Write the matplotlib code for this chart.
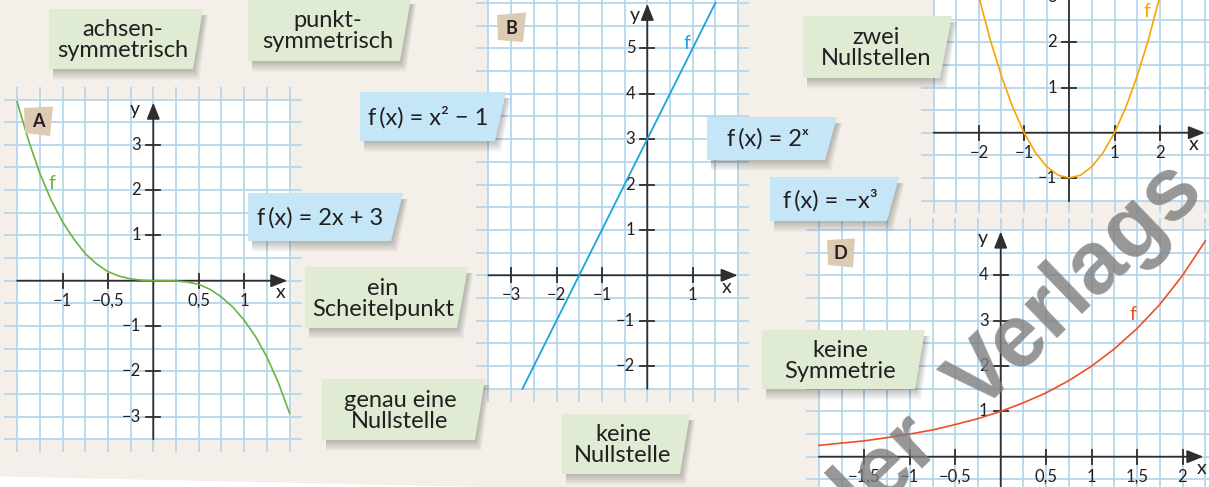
import numpy as np
import matplotlib.pyplot as plt
from matplotlib.patches import Polygon, Rectangle

plt.rcParams['font.family'] = ['Lato', 'DejaVu Sans']

W, H = 1209, 487

# ---- curves, values ----
# A  (f(x) = -x^3, as drawn)
a_x = [-1.5, -1.375, -1.25, -1.125, -1.0, -0.875, -0.75, -0.625, -0.5, -0.375, -0.25, -0.125,
       0.0, 0.125, 0.25, 0.375, 0.5, 0.625, 0.75, 0.875, 1.0, 1.125, 1.25, 1.375, 1.5]
a_y = [3.95, 3.10, 2.37, 1.78, 1.30, 0.92, 0.60, 0.37, 0.20, 0.10, 0.04, 0.01,
       0.0, 0.0, -0.005, -0.03, -0.08, -0.19, -0.36, -0.58, -0.87, -1.23, -1.68, -2.24, -2.92]
# B  (f(x) = 2x + 3)
b_x = [-2.75, 1.5]
b_y = [-2.5, 6.0]
# C  (f(x) = x^2 - 1)
c_x = [-2.0, -1.75, -1.5, -1.25, -1.0, -0.75, -0.5, -0.25, 0.0, 0.25, 0.5, 0.75, 1.0, 1.25, 1.5, 1.75, 2.0]
c_y = [3.0, 2.06, 1.25, 0.56, 0.0, -0.44, -0.75, -0.94, -1.0, -0.94, -0.75, -0.44, 0.0, 0.56, 1.25, 2.06, 3.0]
# D  (f(x) = 2^x)
d_x = [-2.0, -1.75, -1.5, -1.25, -1.0, -0.75, -0.5, -0.25, 0.0, 0.25, 0.5, 0.75, 1.0, 1.25, 1.5, 1.75, 2.0, 2.25]
d_y = [0.25, 0.30, 0.35, 0.42, 0.50, 0.59, 0.71, 0.84, 1.0, 1.19, 1.41, 1.68, 2.0, 2.38, 2.83, 3.36, 4.0, 4.76]

# ---- tick values / labels ----
a_xt = [-1, -0.5, 0.5, 1]
a_xl = ['−1', '−0,5', '0,5', '1']
a_yt = [-3, -2, -1, 1, 2, 3]
a_yl = ['−3', '−2', '−1', '1', '2', '3']
b_xt = [-3, -2, -1, 1]
b_xl = ['−3', '−2', '−1', '1']
b_yt = [-2, -1, 1, 2, 3, 4, 5]
b_yl = ['−2', '−1', '1', '2', '3', '4', '5']
c_xt = [-2, -1, 1, 2]
c_xl = ['−2', '−1', '1', '2']
c_yt = [-1, 1, 2, 3]
c_yl = ['−1', '1', '2', '3']
d_xt = [-1.5, -1, -0.5, 0.5, 1, 1.5, 2]
d_xl = ['−1,5', '−1', '−0,5', '0,5', '1', '1,5', '2']
d_yt = [1, 2, 3, 4]
d_yl = ['1', '2', '3', '4']

# ---- card texts ----
green_texts = ['achsen-\nsymmetrisch', 'punkt-\nsymmetrisch', 'zwei\nNullstellen', 'ein\nScheitelpunkt',
               'genau eine\nNullstelle', 'keine\nNullstelle', 'keine\nSymmetrie']
blue_texts = ['f\u2009(x) = x² − 1', 'f\u2009(x) = 2x + 3', 'f\u2009(x) = 2ˣ', 'f\u2009(x) = −x³']

CREAM = '#f4f0e9'
GRID = '#b6d6ea'
AXC = '#2e2e2e'
TXT = '#231f20'
GREEN_BOX = '#dfecd3'
BLUE_BOX = '#c4e6f7'
BADGE = '#dccab3'

fig = plt.figure(figsize=(W / 100, H / 100), dpi=100)
fig.patch.set_facecolor(CREAM)
bg = fig.add_axes([0, 0, 1, 1])
bg.set_xlim(0, W); bg.set_ylim(H, 0); bg.axis('off')
bg.add_patch(Polygon([(0, 476.5), (530, 488), (0, 488)], fc='white', ec='none'))


def graph(ox, oy, ux, uy, xlim, ylim):
    x0, x1 = xlim
    y0, y1 = ylim
    ax = fig.add_axes([(ox + x0 * ux) / W, 1 - (oy - y0 * uy) / H,
                       (x1 - x0) * ux / W, (y1 - y0) * uy / H])
    ax.set_xlim(x0, x1); ax.set_ylim(y0, y1)
    ax.axis('off')
    return ax


def paper(ax, gx, gy, wx, wy, ex, ey):
    ax.add_patch(Rectangle((wx[0], wy[0]), wx[1] - wx[0], wy[1] - wy[0], fc='white', ec='none', zorder=0))
    for v in gx:
        ax.plot([v, v], [gy[0] - ey[0], gy[-1] + ey[1]], color=GRID, lw=1.3, zorder=1)
    for h in gy:
        ax.plot([gx[0] - ex[0], gx[-1] + ex[1]], [h, h], color=GRID, lw=1.3, zorder=1)


def cross(ax, ux, uy, xr, yr, xt, xl, yt, yl, yarrow=True):
    st = '-|>,head_length=0.55,head_width=0.22'
    ax.annotate('', xy=(xr[1], 0), xytext=(xr[0], 0),
                arrowprops=dict(arrowstyle=st, color=AXC, lw=1.3, mutation_scale=18, shrinkA=0, shrinkB=0), zorder=3)
    if yarrow:
        ax.annotate('', xy=(0, yr[1]), xytext=(0, yr[0]),
                    arrowprops=dict(arrowstyle=st, color=AXC, lw=1.3, mutation_scale=18, shrinkA=0, shrinkB=0), zorder=3)
    else:
        ax.plot([0, 0], yr, color=AXC, lw=1.3, zorder=3)
    tx, ty = 7 / ux, 7 / uy
    for t, s in zip(xt, xl):
        ax.plot([t, t], [-ty, ty], color=AXC, lw=1.3, zorder=3)
        ax.text(t, -20 / uy, s, ha='center', va='center', fontsize=12, color=TXT, zorder=4)
    for t, s in zip(yt, yl):
        ax.plot([-tx, tx], [t, t], color=AXC, lw=1.3, zorder=3)
        ax.text(-12 / ux, t, s, ha='right', va='center', fontsize=12, color=TXT, zorder=4)


# ---- A ----
ux, uy = 90.8, 45.3
axA = graph(153.3, 280.7, ux, uy, (-1.75, 1.75), (-3.85, 4.35))
paper(axA, np.arange(-1.5, 1.51, 0.25), np.arange(-3.5, 4.01, 0.5), (-1.5, 1.5), (-3.5, 4.0),
      (12 / ux, 12 / ux), (12 / uy, 12 / uy))
cross(axA, ux, uy, (-1.5, 1.476), (-3.5, 3.93), a_xt, a_xl, a_yt, a_yl)
axA.plot(a_x, a_y, color='#6cb33f', lw=1.2, zorder=5)
axA.text(-1.12, 2.15, 'f', color='#6cb33f', fontsize=14, ha='center', va='center')
axA.text(1.4, -0.25, 'x', color=TXT, fontsize=14, ha='center', va='center')
axA.text(-0.2, 3.78, 'y', color=TXT, fontsize=14, ha='center', va='center')

# ---- B ----
ux = uy = 45.4
axB = graph(647.3, 275.3, ux, uy, (-3.9, 2.3), (-2.9, 6.2))
paper(axB, np.arange(-3.5, 2.01, 0.5), np.arange(-2.5, 6.01, 0.5), (-3.5, 2.0), (-2.5, 6.2),
      (11 / ux, 10 / ux), (12 / uy, 0.5))
cross(axB, ux, uy, (-3.5, 1.99), (-2.5, 5.98), b_xt, b_xl, b_yt, b_yl)
axB.plot(b_x, b_y, color='#1aa3e0', lw=1.3, zorder=5)
axB.text(0.87, 5.1, 'f', color='#1aa3e0', fontsize=14, ha='center', va='center')
axB.text(1.75, -0.27, 'x', color=TXT, fontsize=14, ha='center', va='center')
axB.text(-0.27, 5.73, 'y', color=TXT, fontsize=14, ha='center', va='center')

# ---- C ----
ux = uy = 45.2
axC = graph(1069.3, 132.7, ux, uy, (-3.4, 3.1), (-1.9, 3.0))
paper(axC, np.arange(-3.0, 3.01, 0.5), np.arange(-1.5, 3.01, 0.5), (-3.0, 3.1), (-1.5, 3.0),
      (12 / ux, 8 / ux), (11 / uy, 0.5))
cross(axC, ux, uy, (-3.0, 3.0), (-1.5, 3.1), c_xt, c_xl, c_yt, c_yl, yarrow=False)
axC.plot(c_x, c_y, color='#f7a600', lw=1.2, zorder=5)
axC.text(1.71, 2.68, 'f', color='#f7a600', fontsize=14, ha='center', va='center')
axC.text(2.75, -0.27, 'x', color=TXT, fontsize=14, ha='center', va='center')

# ---- D ----
ux, uy = 90.9, 45.3
axD = graph(1000.7, 456.7, ux, uy, (-2.25, 2.35), (-0.7, 5.4))
paper(axD, np.arange(-2.0, 2.26, 0.25), np.arange(-0.5, 5.01, 0.5), (-2.0, 2.35), (-0.7, 5.0),
      (12 / ux, 8 / ux), (0.3, 11 / uy))
cross(axD, ux, uy, (-2.0, 2.23), (-0.7, 4.97), d_xt, d_xl, d_yt, d_yl)
axD.plot(d_x, d_y, color='#ef5021', lw=1.2, zorder=5)
axD.text(1.46, 3.13, 'f', color='#ef5021', fontsize=14, ha='center', va='center')
axD.text(2.21, -0.26, 'x', color=TXT, fontsize=14, ha='center', va='center')
axD.text(-0.2, 4.82, 'y', color=TXT, fontsize=14, ha='center', va='center')

# ---- overlay: cards, badges, watermark ----
ov = fig.add_axes([0, 0, 1, 1])
ov.set_xlim(0, W); ov.set_ylim(H, 0); ov.axis('off')


def card(x0, y0, x1t, x1b, y1, color, text, cx, cy):
    for k in range(7):
        d = 1.5 * (k + 1)
        sh = [(x0 + 4, y0 + 6), (x1t + d * 0.5, y0 + 6), (x1b + d * 0.6, y1 + d), (x0 + 4, y1 + d)]
        ov.add_patch(Polygon(sh, fc='black', ec='none', alpha=0.035))
    ov.add_patch(Polygon([(x0, y0), (x1t, y0), (x1b, y1), (x0, y1)], fc=color, ec='none'))
    ov.text(cx, cy, text, ha='center', va='center', fontsize=17, color=TXT, linespacing=1.0)


card(49, 9, 203, 193, 69, GREEN_BOX, green_texts[0], 123, 40)
card(248, -2, 411, 400, 61, GREEN_BOX, green_texts[1], 328, 31)
card(803, 16, 952, 940, 78, GREEN_BOX, green_texts[2], 876, 48)
card(305, 267, 468, 457, 328, GREEN_BOX, green_texts[3], 383, 299)
card(322, 379, 485, 475, 440, GREEN_BOX, green_texts[4], 400, 411)
card(562, 414, 690, 680, 474, GREEN_BOX, green_texts[5], 623, 445)
card(762, 330, 925, 915, 389, GREEN_BOX, green_texts[6], 840, 361)

card(360, 92, 506, 495, 141, BLUE_BOX, blue_texts[0], 428, 117)
card(248, 193, 403, 391, 241, BLUE_BOX, blue_texts[1], 320, 218)
card(707, 117, 837, 825, 160, BLUE_BOX, blue_texts[2], 768, 139)
card(770, 177, 899, 887, 221, BLUE_BOX, blue_texts[3], 830, 200)


def badge(pts, letter):
    ov.add_patch(Polygon(pts, fc=BADGE, ec='none'))
    cx = sum(p[0] for p in pts) / 4
    cy = sum(p[1] for p in pts) / 4
    ov.text(cx, cy + 1, letter, ha='center', va='center', fontsize=13, fontweight='bold', color=TXT)


badge([(24, 108), (53, 106.5), (50, 136), (25, 133)], 'A')
badge([(497, 15), (526, 12.5), (523, 42), (498, 40)], 'B')
badge([(827, 240), (855, 238.5), (853, 267.5), (828, 265)], 'D')

ov.text(1190, 178, 'der  Verlags', rotation=44, rotation_mode='anchor', ha='right', va='center',
        fontsize=64, fontweight='bold', family='Liberation Sans', color='#7d7d7d', alpha=0.8)

fig.savefig('out.png', dpi=100, facecolor=fig.get_facecolor())
